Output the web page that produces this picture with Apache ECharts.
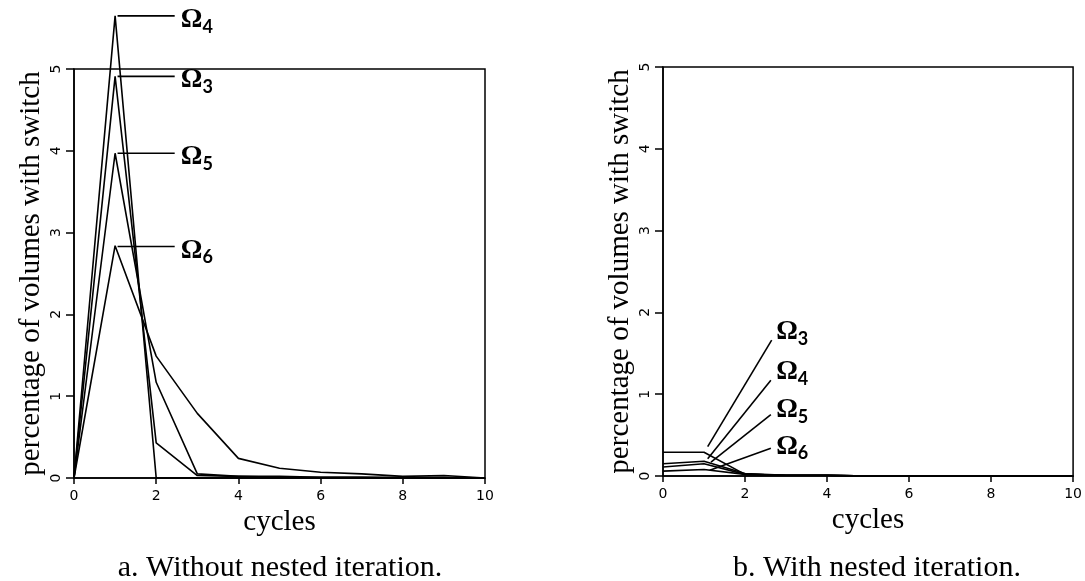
<!DOCTYPE html>
<html>
<head>
<meta charset="utf-8">
<script src="https://cdn.jsdelivr.net/npm/echarts@6/dist/echarts.min.js"></script>
<style>
html,body{margin:0;padding:0;background:#fff;}
#chart{width:1085px;height:581px;}
</style>
</head>
<body>
<div id="chart"></div>
<script>
// cycles on the x axis
var cycles = [0, 1, 2, 3, 4, 5, 6, 7, 8, 9, 10];
var subs = ['3', '4', '5', '6'];

// a. without nested iteration
var a3 = [0, 4.91, 0.43, 0.03, 0.02, 0.01, 0.01, 0.01, 0, 0, 0];
var a4 = [0, 5.65, 0, 0, 0, 0, 0, 0, 0, 0, 0];
var a5 = [0, 3.97, 1.17, 0.05, 0.02, 0.02, 0.01, 0.01, 0.01, 0.01, 0];
var a6 = [0, 2.84, 1.49, 0.79, 0.24, 0.12, 0.07, 0.05, 0.02, 0.03, 0];

// b. with nested iteration
var b3 = [0.29, 0.29, 0.02, 0.01, 0.01, 0, 0, 0, 0, 0, 0];
var b4 = [0.15, 0.18, 0.03, 0.01, 0.01, 0, 0, 0, 0, 0, 0];
var b5 = [0.11, 0.15, 0.02, 0.01, 0.01, 0, 0, 0, 0, 0, 0];
var b6 = [0.06, 0.08, 0.02, 0.01, 0.01, 0, 0, 0, 0, 0, 0];

// label leaders, in data units: [x0, y0, x1, y1, textX, textY]
var leadersA = [
  [1.06, 4.91, 2.45, 4.91, 2.6, 4.86],
  [1.06, 5.65, 2.45, 5.65, 2.6, 5.6],
  [1.06, 3.97, 2.45, 3.97, 2.6, 3.92],
  [1.06, 2.83, 2.45, 2.83, 2.6, 2.78]
];
var leadersB = [
  [1.09, 0.36, 2.65, 1.66, 2.76, 1.76],
  [1.09, 0.21, 2.63, 1.17, 2.76, 1.27],
  [1.17, 0.17, 2.63, 0.75, 2.76, 0.81],
  [1.14, 0.07, 2.63, 0.34, 2.76, 0.36]
];

var serif = '"Liberation Serif", "Times New Roman", serif';
var tickFont = '"DejaVu Sans", sans-serif';

function pairs(ys) {
  return cycles.map(function (c, i) { return [c, ys[i]]; });
}

function xAx(gi) {
  return {
    gridIndex: gi, type: 'value', min: 0, max: 10, interval: 2,
    name: 'cycles', nameLocation: 'middle', nameGap: 26,
    nameTextStyle: {fontFamily: serif, fontSize: 29, color: '#000'},
    axisLine: {lineStyle: {color: '#000', width: 1.5}},
    axisTick: {length: 6, lineStyle: {color: '#000', width: 1.5}},
    axisLabel: {color: '#000', fontFamily: tickFont, fontSize: 14, margin: 11},
    splitLine: {show: false}
  };
}
function yAx(gi) {
  return {
    gridIndex: gi, type: 'value', min: 0, max: 5, interval: 1,
    name: 'percentage of volumes with switch', nameLocation: 'middle', nameRotate: 90, nameGap: 28,
    nameTextStyle: {fontFamily: serif, fontSize: 29, color: '#000'},
    axisLine: {lineStyle: {color: '#000', width: 1.5}},
    axisTick: {length: 8, lineStyle: {color: '#000', width: 1.5}},
    axisLabel: {color: '#000', fontFamily: tickFont, fontSize: 14, rotate: 90, margin: 11},
    splitLine: {show: false}
  };
}
function ser(gi, ys) {
  return {
    type: 'line', xAxisIndex: gi, yAxisIndex: gi, data: pairs(ys),
    symbol: 'none', clip: false, animation: false,
    lineStyle: {color: '#000', width: 1.6}
  };
}

var chart = echarts.init(document.getElementById('chart'));
var option = {
  backgroundColor: '#fff',
  animation: false,
  grid: [
    {left: 74, right: 600, top: 69, bottom: 103, show: true, borderColor: '#000', borderWidth: 1.5},
    {left: 663, right: 10, top: 67, bottom: 105, show: true, borderColor: '#000', borderWidth: 1.5}
  ],
  xAxis: [xAx(0), xAx(1)],
  yAxis: [yAx(0), yAx(1)],
  series: [
    ser(0, a3), ser(0, a4), ser(0, a5), ser(0, a6),
    ser(1, b3), ser(1, b4), ser(1, b5), ser(1, b6)
  ]
};
chart.setOption(option);

var g = [];
function addLeaders(gi, list) {
  list.forEach(function (l, i) {
    var p0 = chart.convertToPixel({gridIndex: gi}, [l[0], l[1]]);
    var p1 = chart.convertToPixel({gridIndex: gi}, [l[2], l[3]]);
    var pt = chart.convertToPixel({gridIndex: gi}, [l[4], l[5]]);
    g.push({type: 'line', shape: {x1: p0[0], y1: p0[1], x2: p1[0], y2: p1[1]},
      style: {stroke: '#000', lineWidth: 1.6}});
    g.push({type: 'text', x: pt[0], y: pt[1], style: {
      text: '{o|Ω}{s|' + subs[i] + '}', align: 'left', verticalAlign: 'middle',
      rich: {
        o: {fontFamily: serif, fontSize: 27, fontWeight: 'bold', lineHeight: 32, fill: '#000'},
        s: {fontFamily: 'Lato, "Liberation Sans", sans-serif', fontSize: 18, fontWeight: 'bold',
          lineHeight: 18, verticalAlign: 'bottom', fill: '#000'}
      }
    }});
  });
}
addLeaders(0, leadersA);
addLeaders(1, leadersB);

g.push({type: 'text', x: 280, y: 568, style: {text: 'a. Without nested iteration.', align: 'center',
  verticalAlign: 'middle', fontFamily: serif, fontSize: 30, fill: '#000'}});
g.push({type: 'text', x: 877, y: 568, style: {text: 'b. With nested iteration.', align: 'center',
  verticalAlign: 'middle', fontFamily: serif, fontSize: 30, fill: '#000'}});

chart.setOption({graphic: g});
</script>
</body>
</html>
